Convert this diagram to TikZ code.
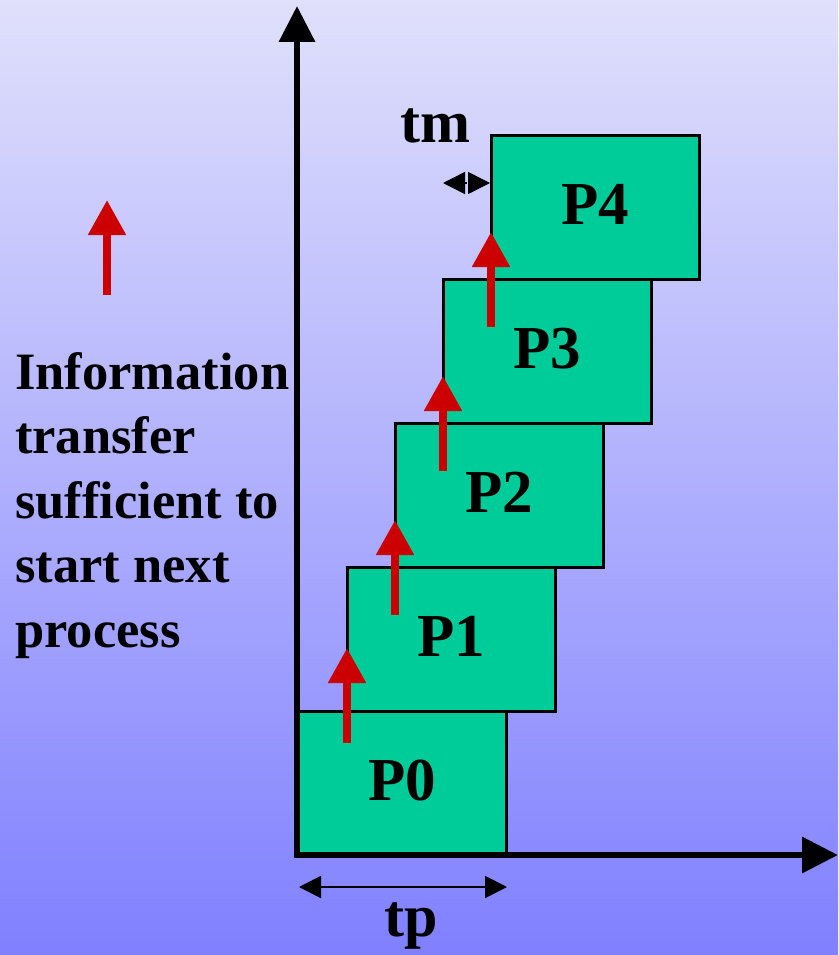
\documentclass[tikz,border=0pt]{standalone}
\usepackage{fontspec}
\setmainfont{Liberation Serif}
\usetikzlibrary{arrows.meta}
\definecolor{bgtop}{RGB}{224,224,252}
\definecolor{bgbot}{RGB}{128,128,255}
\definecolor{procgreen}{RGB}{0,204,153}
\definecolor{infored}{RGB}{204,0,0}
\begin{document}
\begin{tikzpicture}[x=1pt,y=-1pt,
  procbox/.style={draw=black, line width=3pt, fill=procgreen,
    minimum width=208pt, minimum height=144pt, inner sep=0pt,
    text height=41pt, text depth=7pt,
    font=\fontsize{61}{61}\selectfont\bfseries},
  axis/.style={line width=6.5pt, -{Triangle[width=35pt,length=36pt]}},
  infoarrow/.style={infored, line width=8pt, -{Triangle[width=36pt,length=35pt]}},
  dim/.style={line width=2pt, {Triangle[width=22pt,length=22pt]}-{Triangle[width=22pt,length=22pt]}},
  biglabel/.style={font=\fontsize{60}{60}\selectfont\bfseries, inner sep=0pt}]
\useasboundingbox (0,0) rectangle (838,955);
\shade[top color=bgtop, bottom color=bgbot] (0,0) rectangle (838,955);

% process boxes, each shifted by tm to the right and stacked upwards
\node[procbox] (p0) at (402.5,783) {P0};
\node[procbox] (p1) at (451,639) {P1};
\node[procbox] (p2) at (499,495) {P2};
\node[procbox] (p3) at (547,351) {P3};
\node[procbox] (p4) at (595,207) {P4};

% axes
\coordinate (origin) at (297,855);
\coordinate (ytip) at (297,6);
\coordinate (xtip) at (838,855);
\draw[axis] (origin) -- (ytip);
\draw[axis] ([xshift=-3pt]origin) -- (xtip);

% information transfer arrows
\coordinate (a0s) at (347,743); \coordinate (a0e) at (347,648);
\coordinate (a1s) at (395,615); \coordinate (a1e) at (395,520);
\coordinate (a2s) at (443,471); \coordinate (a2e) at (443,376);
\coordinate (a3s) at (491,327); \coordinate (a3e) at (491,232);
\draw[infoarrow] (a0s) -- (a0e);
\draw[infoarrow] (a1s) -- (a1e);
\draw[infoarrow] (a2s) -- (a2e);
\draw[infoarrow] (a3s) -- (a3e);

% legend
\coordinate (ls) at (107,295); \coordinate (le) at (107,200);
\draw[infoarrow] (ls) -- (le);
\node[anchor=north west, align=left, inner sep=0pt,
  font=\fontsize{52.5}{64.5}\selectfont\bfseries] (legend) at (15,352)
  {Information\\transfer\\sufficient to\\start next\\process};

% tm: offset between successive processes
\coordinate (tml) at (443,183);
\coordinate (tmm) at (467.5,183);
\coordinate (tmr) at (490,183);
\draw[line width=1.5pt, -{Triangle[width=22pt,length=22pt]}] ([xshift=-0.5pt]tmm) -- (tml);
\draw[line width=1.5pt, -{Triangle[width=22pt,length=22pt]}] ([xshift=0.5pt]tmm) -- (tmr);
\node[biglabel] (tm) at (435,126) {tm};

% tp: process duration
\coordinate (tpl) at (299,887);
\coordinate (tpr) at (507,887);
\draw[dim] (tpl) -- (tpr);
\node[biglabel] (tp) at (411,926) {tp};
\end{tikzpicture}
\end{document}
